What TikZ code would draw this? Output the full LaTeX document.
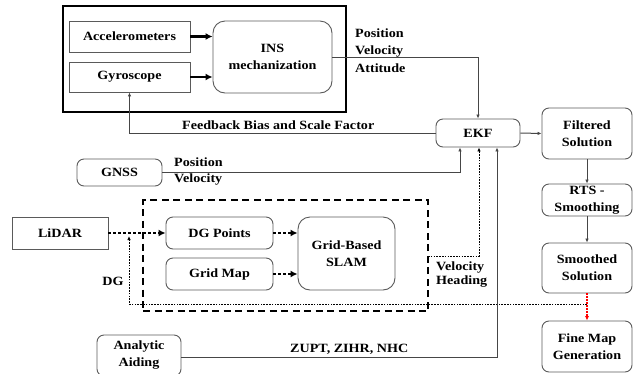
\documentclass[tikz,border=0pt]{standalone}
\usepackage{fontspec}
\setmainfont{Liberation Serif}[FakeStretch=1.12]
\usetikzlibrary{arrows.meta}
\definecolor{bord}{RGB}{90,90,90}
\definecolor{conn}{RGB}{70,70,70}
\begin{document}
\begin{tikzpicture}[x=1pt,y=-1pt,
  every node/.style={font=\bfseries\fontsize{12.6}{17}\selectfont, align=center, inner sep=0pt},
  sq/.style={draw=bord, line width=0.9pt},
  rnd/.style={draw=bord, line width=0.9pt, rounded corners=7pt},
  lab/.style={align=left},
  thin/.style={draw=conn, line width=1pt, -{Latex[length=4pt,width=3.5pt]}},
  thickarr/.style={draw=black, line width=2.4pt, -{Latex[length=7pt,width=7pt]}},
  dotarr/.style={draw=black, line width=2.2pt, dash pattern=on 2.2pt off 2.8pt, -{Latex[length=7pt,width=7pt]}},
  fine/.style={draw=black, line width=0.8pt, dash pattern=on 1.6pt off 1.2pt},
  redarr/.style={draw=red, line width=1.1pt, dash pattern=on 1.8pt off 1.2pt, -{Latex[length=4.5pt,width=4pt]}},
]
\useasboundingbox (0,0) rectangle (633,373);
\clip (0,0) rectangle (633,373);

% group boxes
\node[draw=black, line width=2.6pt, minimum width=283pt, minimum height=106pt] (insgroup) at (204.5,59) {};
\node[draw=black, line width=2pt, dash pattern=on 7pt off 4.5pt, minimum width=285pt, minimum height=111pt] (slamgroup) at (285.5,255.5) {};

% nodes
\node[sq, minimum width=121pt, minimum height=31pt] (acc) at (129.5,36.5) {Accelerometers};
\node[sq, minimum width=121pt, minimum height=30pt] (gyro) at (129.5,77) {Gyroscope};
\node[rnd, rounded corners=12pt, minimum width=119pt, minimum height=72pt] (ins) at (272.5,57) {INS\\mechanization};
\node[rnd, minimum width=84pt, minimum height=28pt] (ekf) at (478,133) {EKF};
\node[rnd, minimum width=90pt, minimum height=51pt] (filt) at (587,133.5) {Filtered\\Solution};
\node[rnd, minimum width=90pt, minimum height=32pt, font=\bfseries\fontsize{12.6}{17.5}\selectfont] (rts) at (587,200) {RTS -\\Smoothing};
\node[rnd, minimum width=90pt, minimum height=50pt] (smooth) at (587,268) {Smoothed\\Solution};
\node[rnd, minimum width=90pt, minimum height=51pt] (finemap) at (587,346.5) {Fine Map\\Generation};
\node[rnd, minimum width=85pt, minimum height=27pt] (gnss) at (119.5,172.5) {GNSS};
\node[sq, minimum width=96pt, minimum height=32pt] (lidar) at (60,233) {LiDAR};
\node[rnd, minimum width=107pt, minimum height=32pt] (dgp) at (219.5,233) {DG Points};
\node[rnd, minimum width=107pt, minimum height=32pt] (gmap) at (219.5,274) {Grid Map};
\node[rnd, rounded corners=12pt, minimum width=97pt, minimum height=73pt] (slam) at (346.5,253.5) {Grid-Based\\SLAM};
\node[rnd, minimum width=84pt, minimum height=41pt] (aid) at (139,355.5) {Analytic\\Aiding};

% labels
\node[lab, anchor=north west, font=\bfseries\fontsize{12.6}{17.5}\selectfont] (l1) at (355,28.5) {Position\\Velocity\\Attitude};
\node[anchor=base west] (l2) at (182,129) {Feedback Bias and Scale Factor};
\node[lab, anchor=north west, font=\bfseries\fontsize{12.6}{16.5}\selectfont] (l3) at (174,157.5) {Position\\Velocity};
\node[lab, anchor=north west, font=\bfseries\fontsize{12.6}{13.5}\selectfont] (l4) at (436,262) {Velocity\\Heading};
\node (l5) at (113,281) {DG};
\node[anchor=base west] (l6) at (290,352) {ZUPT, ZIHR, NHC};

% coordinates
\coordinate (dgright) at (587,304);
\coordinate (dgleft) at (129,304);
\coordinate (dgtop) at (129,236);
\coordinate (vhs) at (428,256);
\coordinate (vhc) at (479,256);
\coordinate (aidc) at (497,357);

% connectors
\draw[thickarr] (acc.east) -- (ins.west |- acc.east);
\draw[thickarr] (gyro.east) -- (ins.west |- gyro.east);
\draw[thin] (ins.east) -| (ekf.north);
\draw[thin] (ekf.west) -| (gyro.south);
\draw[thin] (ekf.east) -- (filt.west);
\draw[thin] (filt.south) -- (rts.north);
\draw[thin] (rts.south) -- (smooth.north);
\draw[thin] (gnss.east) -| ([xshift=-18pt]ekf.south);
\draw[fine, -{Latex[length=4pt,width=3.5pt]}] (vhs) -- (vhc) -- (vhc |- ekf.south);
\draw[thin] (aidc -| aid.east) -- (aidc) -- (aidc |- ekf.south);
\draw[dotarr] (lidar.east) -- (dgp.west);
\draw[dotarr] (dgp.east) -- (slam.west |- dgp.east);
\draw[dotarr] (gmap.east) -- (slam.west |- gmap.east);
\draw[fine, -{Latex[length=4pt,width=3.5pt]}] (dgright) -- (dgleft) -- (dgtop);
\draw[redarr] (smooth.south) -- (finemap.north);
\end{tikzpicture}
\end{document}
